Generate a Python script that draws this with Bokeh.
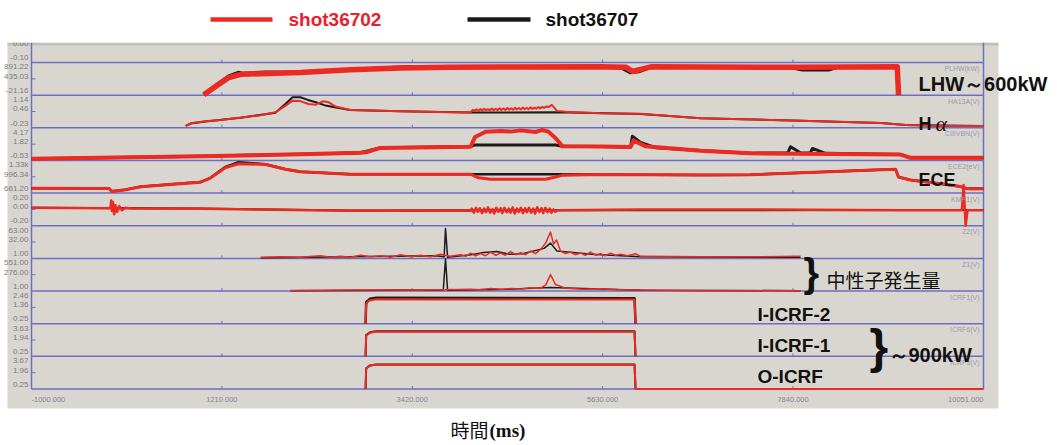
from bokeh.plotting import figure
from bokeh.models import ColumnDataSource, Range1d
from bokeh.core.properties import value
from bokeh.embed import file_html
from bokeh.resources import INLINE

# ---------------- time axis (ms) ----------------
T_START, T_END = -1000.0, 10051.0
time_ticks = [-1000, 1210, 3420, 5630, 7840, 10051]
time_tick_labels = ["-1000.000", "1210.000", "3420.000", "5630.000", "7840.000", "10051.000"]

# ---------------- channels, top to bottom ----------------
channel_names = ["PLHW(kW)", "HA13A(V)", "CIIIVBN(V)", "ECE2(eV)", "KMP1(V)",
                 "Z2(V)", "Z1(V)", "ICRF1(V)", "ICRF6(V)", "ICRF3(V)"]
channel_top = [891.22, 1.14, 4.17, 1331.48, 0.20, 63.00, 551.00, 2.46, 3.63, 3.67]
channel_bottom = [-21.16, -0.23, -0.53, 661.20, -0.20, 1.00, 1.00, 0.25, 0.25, 0.25]
top_labels = ["891.22", "1.14", "4.17", "1.33k", "0.20", "63.00", "551.00", "2.46", "3.63", "3.67"]
mid_labels = ["435.03", "0.46", "1.82", "996.34", "0.00", "32.00", "276.00", "1.36", "1.94", "1.96"]
bottom_labels = ["-21.16", "-0.23", "-0.53", "661.20", "-0.20", "1.00", "1.00", "0.25", "0.25", "0.25"]
# panel cut off above the first channel
upper_mid_label, upper_bottom_label = "0.00", "-0.10"

# ---------------- waveforms: (time ms, value) ----------------
lhw_702 = [(1000, -8), (1140, 230), (1290, 470), (1430, 560), (1660, 580), (2120, 610),
           (2700, 690), (3280, 735), (3860, 760), (4450, 765), (5600, 775), (5900, 760), (5980, 640),
           (6070, 700), (6190, 770), (6770, 765), (7930, 760), (8510, 765), (9050, 770), (9065, -12)]
lhw_707 = [(1000, -8), (1140, 250), (1290, 510), (1400, 610), (1450, 585), (1720, 620), (2120, 615),
           (2700, 690), (3280, 760), (3400, 775), (3520, 745), (3860, 760), (4450, 765), (5600, 770), (5850, 740),
           (5950, 610), (6050, 640), (6190, 760), (7800, 755), (7950, 690), (8250, 690), (8350, 760), (9050, 770),
           (9065, -12)]

ha_702 = [(790, -0.16), (850, -0.04), (905, -0.01), (1020, 0.04), (1195, 0.10), (1430, 0.20), (1660, 0.30),
          (1830, 0.42), (1950, 0.70), (2030, 0.91), (2120, 0.89), (2215, 0.77), (2300, 0.74), (2380, 0.88),
          (2450, 0.84), (2530, 0.66), (2700, 0.52), (3280, 0.46), (3860, 0.42), (4100, 0.41),
          (4120, 0.53), (4140, 0.47), (4165, 0.55), (4185, 0.48), (4210, 0.56), (4230, 0.49), (4255, 0.57),
          (4275, 0.50), (4300, 0.56), (4320, 0.50), (4345, 0.58), (4365, 0.51), (4390, 0.57), (4410, 0.51),
          (4435, 0.59), (4455, 0.52), (4480, 0.58), (4500, 0.52), (4525, 0.60), (4545, 0.53), (4570, 0.59),
          (4590, 0.53), (4615, 0.61), (4635, 0.54), (4660, 0.60), (4680, 0.54), (4705, 0.62), (4725, 0.55),
          (4750, 0.61), (4770, 0.55), (4795, 0.63), (4815, 0.56), (4840, 0.62), (4860, 0.57), (4885, 0.64),
          (4905, 0.58), (4930, 0.65), (4950, 0.60), (4975, 0.66), (5000, 0.64), (5040, 0.73), (5100, 0.48),
          (5200, 0.44), (5600, 0.38), (6070, 0.36), (6770, 0.17), (7930, 0.07), (8860, -0.03), (9150, -0.11),
          (9500, -0.15), (10051, -0.15)]
ha_707 = [(790, -0.15), (850, -0.05), (1020, 0.03), (1430, 0.19), (1830, 0.40), (1950, 0.78), (2030, 1.05),
          (2120, 1.05), (2200, 0.95), (2300, 0.84), (2400, 0.72), (2530, 0.62), (2700, 0.52), (3280, 0.46),
          (4100, 0.41), (5100, 0.42), (6070, 0.35), (6770, 0.17), (7930, 0.07), (8860, -0.03), (9150, -0.11),
          (10051, -0.15)]

ciii_702 = [(-1000, -0.30), (960, 0.06), (2120, 0.36), (2820, 0.57), (2900, 0.70), (3050, 1.28), (4097, 1.45),
            (4150, 2.85), (4270, 3.60), (4450, 3.70), (4560, 3.62), (4680, 3.80), (4850, 3.57), (4930, 3.86),
            (5000, 3.62), (5083, 2.70), (5164, 1.50), (5605, 1.47), (5954, 1.40), (5989, 2.35), (6128, 1.50),
            (6766, 0.88), (7346, 0.50), (9088, 0.32), (9204, -0.15), (10051, -0.15)]
ciii_707 = [(-1000, -0.28), (960, 0.08), (2120, 0.38), (2820, 0.58), (3050, 1.30), (4097, 1.47), (4150, 1.70),
            (5083, 1.70), (5164, 1.50), (5605, 1.47), (5954, 1.40), (5975, 2.95), (6070, 2.05), (6244, 1.30),
            (6766, 0.90), (7346, 0.52), (7780, 0.55), (7811, 1.45), (7930, 0.55), (8040, 0.55), (8066, 1.20),
            (8217, 0.50), (9088, 0.34), (9204, -0.13), (10051, -0.13)]

ece_702 = [(-1000, 760), (-100, 758), (-70, 695), (90, 730), (265, 790), (614, 840), (962, 885), (1078, 970),
           (1252, 1185), (1403, 1265), (1717, 1250), (1949, 1150), (2123, 1100), (2704, 1050), (4097, 1050),
           (4189, 975), (4329, 945), (4968, 945), (5083, 990), (5164, 1030), (5605, 1045), (6766, 1035),
           (7346, 1040), (8856, 1140), (9030, 1150), (9065, 990), (9204, 930), (9553, 855), (9785, 795),
           (9843, 760), (9900, 745), (10051, 750)]
ece_707 = [(-1000, 762), (-100, 760), (-70, 698), (90, 732), (265, 792), (614, 842), (962, 888), (1078, 975),
           (1252, 1200), (1403, 1295), (1717, 1255), (1949, 1150), (2123, 1100), (2704, 1050), (5083, 1050),
           (5605, 1045), (6766, 1035), (7346, 1040), (8856, 1140), (9030, 1150), (9065, 990), (9204, 930),
           (9553, 855), (9785, 795), (9843, 760), (10051, 750)]

kmp_702 = [(-1000, 0.02), (-106, 0.015), (-83, 0.02), (-75, 0.11), (-66, -0.02), (-55, 0.09), (-40, -0.06),
           (-25, 0.05), (-5, -0.03), (20, 0.04), (50, -0.01), (90, 0.02), (149, 0.01), (962, 0.008),
           (2704, -0.015), (4097, -0.015),
           (4110, 0.01), (4135, -0.04), (4160, 0.02), (4180, -0.03), (4205, 0.015), (4230, -0.045),
           (4255, 0.01), (4275, -0.035), (4300, 0.025), (4325, -0.04), (4350, 0.005), (4370, -0.05),
           (4395, 0.02), (4420, -0.03), (4445, 0.015), (4465, -0.045), (4490, 0.02), (4515, -0.035),
           (4540, 0.01), (4560, -0.04), (4585, 0.025), (4610, -0.05), (4635, 0.01), (4655, -0.03),
           (4680, 0.02), (4705, -0.045), (4730, 0.015), (4750, -0.035), (4775, 0.02), (4800, -0.04),
           (4825, 0.01), (4845, -0.05), (4870, 0.025), (4895, -0.03), (4920, 0.015), (4940, -0.045),
           (4965, 0.02), (4990, -0.035), (5015, 0.01), (5035, -0.04), (5060, 0.0), (5080, -0.03),
           (5100, -0.01), (6070, 0.0), (7346, 0.0), (9088, -0.01), (9800, -0.01), (9820, 0.30), (9843, -0.20),
           (9866, -0.01), (10051, -0.01)]
kmp_707 = [(-1000, 0.02), (962, 0.01), (2704, -0.012), (9088, -0.008), (10051, -0.008)]

z2_702 = [(1660, 3), (1900, 4), (2123, 3), (2355, 6), (2470, 3), (2587, 5), (2700, 3), (2820, 7), (2940, 4),
          (3052, 6), (3170, 3), (3284, 8), (3400, 4), (3516, 7), (3630, 4), (3748, 9), (3860, 5), (3980, 8),
          (4040, 5), (4097, 11), (4155, 6), (4213, 10), (4270, 6), (4329, 13), (4390, 7), (4445, 11), (4500, 7),
          (4561, 14), (4620, 8), (4677, 12), (4735, 8), (4793, 15), (4850, 10), (4910, 18), (4968, 30),
          (5025, 51), (5060, 28), (5095, 36), (5141, 15), (5200, 10), (5257, 13), (5315, 8), (5373, 11),
          (5430, 7), (5489, 13), (5550, 7), (5605, 10), (5660, 6), (5721, 11), (5780, 7), (5838, 9), (5920, 6),
          (6012, 10), (6070, 5), (6766, 4), (7346, 4), (7927, 5)]
z2_707 = [(1660, 2), (3700, 6), (3790, 4), (3806, 58), (3830, 3), (4100, 8), (4250, 12), (4400, 14),
          (4550, 9), (4700, 10), (4950, 20), (5025, 30), (5100, 15), (5500, 9), (6070, 4), (7927, 3)]

z1_702 = [(2007, 10), (2350, 16), (2704, 20), (3000, 18), (3284, 25), (3500, 19), (3748, 22), (3950, 26),
          (4097, 32), (4200, 24), (4329, 45), (4450, 32), (4561, 42), (4680, 35), (4793, 55), (4900, 45),
          (4968, 100), (5025, 280), (5083, 110), (5199, 50), (5400, 32), (5605, 38), (5800, 26), (6070, 20),
          (6766, 10), (7927, 8)]
z1_707 = [(2007, 8), (3780, 18), (3806, 545), (3830, 15), (4500, 30), (5025, 60), (6070, 15), (7927, 6)]

icrf1_702 = [(2878, 0.25), (2885, 1.60), (2920, 1.82), (3000, 1.90), (6000, 1.88), (6012, 0.25)]
icrf1_707 = [(2878, 0.25), (2885, 1.70), (2930, 1.94), (3000, 2.00), (6000, 1.98), (6012, 0.25)]
icrf6_702 = [(2878, 0.25), (2885, 2.40), (2930, 2.70), (3000, 2.80), (6000, 2.80), (6012, 0.25)]
icrf6_707 = [(2878, 0.25), (2885, 2.45), (2930, 2.75), (3000, 2.84), (6000, 2.84), (6012, 0.25)]
icrf3_702 = [(2878, 0.25), (2885, 2.40), (2930, 2.70), (3000, 2.80), (6000, 2.80), (6012, 0.25), (10051, 0.25)]
icrf3_707 = [(2878, 0.25), (2885, 2.42), (2930, 2.72), (3000, 2.82), (6000, 2.82), (6012, 0.25)]

shot_702 = [lhw_702, ha_702, ciii_702, ece_702, kmp_702, z2_702, z1_702, icrf1_702, icrf6_702, icrf3_702]
shot_707 = [lhw_707, ha_707, ciii_707, ece_707, kmp_707, z2_707, z1_707, icrf1_707, icrf6_707, icrf3_707]

# ---------------- layout (pixels) ----------------
W, H = 1057, 445
X0_PX, X1_PX = 31, 983          # time axis ends
AXIS_PX = 388.5                 # bottom axis line
PANEL_PX = 32.65                # height of one channel strip
SCREEN_L, SCREEN_R, SCREEN_T, SCREEN_B = 7, 998, 42, 408
N = len(channel_names)
UNIT = 100.0                    # data units per strip

RED = "#ec2a22"
BLACK = "#1b1b1b"
GRID_BLUE = "#6b6fc4"
SCREEN_BG = "#d9d6d0"
red_width = [5.5, 2, 4, 3, 2.5, 1.5, 1.5, 2, 2, 2]
black_width = [3.5, 2, 3, 2.5, 2, 1.5, 1.5, 2.5, 2, 2]


def tx(px):
    return T_START + (px - X0_PX) * (T_END - T_START) / (X1_PX - X0_PX)


def ty(py):
    return (AXIS_PX - py) / PANEL_PX * UNIT


def dy(npx):
    return npx / PANEL_PX * UNIT


def to_strip(i, vals):
    base = (N - 1 - i) * UNIT
    lo, hi = channel_bottom[i], channel_top[i]
    return [base + UNIT * (v - lo) / (hi - lo) for v in vals]


p = figure(width=W, height=H, x_range=Range1d(tx(0), tx(W)), y_range=Range1d(ty(H), ty(0)),
           output_backend="svg", toolbar_location=None, x_axis_location=None, y_axis_location=None,
           min_border=0)
p.outline_line_color = None
p.background_fill_color = "white"
p.border_fill_color = "white"
p.grid.visible = False

# screen area
p.quad(left=[tx(SCREEN_L)], right=[tx(SCREEN_R)], top=[ty(SCREEN_T)], bottom=[ty(SCREEN_B)],
       fill_color=SCREEN_BG, line_color=None)
p.quad(left=[tx(SCREEN_L)], right=[tx(SCREEN_R)], top=[ty(SCREEN_T)], bottom=[ty(SCREEN_T + 3)],
       fill_color="#c4bfb7", line_color=None)

# strip separators and frame
sep_y = [k * UNIT for k in range(N + 1)]
p.segment(x0=[T_START] * len(sep_y), x1=[T_END] * len(sep_y), y0=sep_y, y1=sep_y,
          line_color=GRID_BLUE, line_width=1.5)
p.segment(x0=[T_START, T_END], x1=[T_START, T_END], y0=[0, 0], y1=[ty(SCREEN_T)] * 2,
          line_color=GRID_BLUE, line_width=1.5)

# time ticks on every separator
tk_x, tk_y0, tk_y1 = [], [], []
for yv in sep_y:
    for t in time_ticks[1:-1]:
        tk_x.append(t)
        tk_y0.append(yv)
        tk_y1.append(yv + dy(3))
p.segment(x0=tk_x, x1=tk_x, y0=tk_y0, y1=tk_y1, line_color=GRID_BLUE, line_width=1)

# mid ticks on the left axis
mid_y = [k * UNIT + UNIT / 2 for k in range(N)]
p.segment(x0=[T_START] * N, x1=[tx(X0_PX + 4)] * N, y0=mid_y, y1=mid_y, line_color=GRID_BLUE, line_width=1)

# waveforms: shot 36707 below, shot 36702 on top
for i in range(N):
    for series, color, widths in ((shot_707, BLACK, black_width), (shot_702, RED, red_width)):
        pts = series[i]
        src = ColumnDataSource(dict(t=[a for a, _ in pts], y=to_strip(i, [b for _, b in pts])))
        p.line("t", "y", source=src, line_color=color, line_width=widths[i], line_join="round")

# left value labels
lab_txt, lab_y = [], []
for i in range(N):
    base = (N - 1 - i) * UNIT
    lab_txt += [top_labels[i], mid_labels[i], bottom_labels[i]]
    lab_y += [base + UNIT - dy(4.3), base + UNIT * 0.58, base + dy(4.8)]
lab_txt += [upper_mid_label, upper_bottom_label]
lab_y += [N * UNIT + UNIT * 0.58, N * UNIT + dy(4.8)]
p.text(x=[tx(28)] * len(lab_txt), y=lab_y, text=lab_txt, text_font=value("Liberation Sans"),
       text_font_size=value("8px"), text_color="#7b7b86", text_align="right", text_baseline="middle")

# channel names on the right
p.text(x=[tx(979)] * N, y=[(N - 1 - i) * UNIT + UNIT - dy(6) for i in range(N)], text=channel_names,
       text_font=value("Liberation Sans"), text_font_size=value("7px"), text_color="#9a9aaa",
       text_align="right", text_baseline="middle")

# time tick labels
p.text(x=time_ticks, y=[ty(399)] * len(time_ticks), text=time_tick_labels,
       text_font=value("Liberation Sans"), text_font_size=value("7.5px"), text_color="#85858f",
       text_align=["left", "center", "center", "center", "center", "right"], text_baseline="middle")

# white margin above the screen
p.quad(left=[tx(0)], right=[tx(W)], top=[ty(0)], bottom=[ty(SCREEN_T)], fill_color="white", line_color=None)

# legend
p.segment(x0=[tx(210), tx(467)], x1=[tx(272), tx(530)], y0=[ty(19)] * 2, y1=[ty(19)] * 2,
          line_color=[RED, BLACK], line_width=4.5)
p.text(x=[tx(288), tx(545)], y=[ty(19)] * 2, text=["shot36702", "shot36707"],
       text_font=value("Liberation Sans"), text_font_size=value("19px"), text_font_style=value("bold"),
       text_color=["#e8202c", "#111111"], text_baseline="middle")

# annotations
ann = dict(text_font=value("Liberation Sans"), text_font_style=value("bold"), text_color="#111111",
           text_baseline="middle")
p.text(x=[tx(918)], y=[ty(83)], text=["LHW～600kW"], text_font_size=value("20px"), **ann)
p.text(x=[tx(918)], y=[ty(123)], text=["H"], text_font=value("Liberation Sans"), text_font_size=value("18px"),
       text_font_style=value("bold"), text_color="#111111", text_baseline="alphabetic")
p.text(x=[tx(935)], y=[ty(123)], text=["α"], text_font=value("Liberation Serif"), text_font_size=value("22px"),
       text_font_style=value("italic"), text_color="#111111", text_baseline="alphabetic")
p.text(x=[tx(918)], y=[ty(179)], text=["ECE"], text_font_size=value("18px"), **ann)
p.text(x=[tx(757), tx(757), tx(757)], y=[ty(314), ty(345), ty(376)], text=["I-ICRF-2", "I-ICRF-1", "O-ICRF"],
       text_font_size=value("19px"), **ann)
p.text(x=[tx(888)], y=[ty(354)], text=["～900kW"], text_font_size=value("20px"), **ann)
p.text(x=[tx(803)], y=[ty(272)], text=["}"], text_font_size=value("40px"), **ann)
p.text(x=[tx(869)], y=[ty(346)], text=["}"], text_font_size=value("48px"), **ann)
p.text(x=[tx(826)], y=[ty(279)], text=["中性子発生量"], text_font=value("Noto Sans CJK JP"),
       text_font_size=value("19px"), text_color="#111111", text_baseline="middle")

# time axis title
p.text(x=[tx(450)], y=[ty(429)], text=["時間"], text_font=value("Noto Sans CJK JP"),
       text_font_size=value("19px"), text_color="#111111", text_baseline="middle")
p.text(x=[tx(489)], y=[ty(430)], text=["(ms)"], text_font=value("Liberation Serif"),
       text_font_size=value("19px"), text_font_style=value("bold"), text_color="#111111",
       text_baseline="middle")

open("out.html", "w").write(file_html(p, INLINE))
